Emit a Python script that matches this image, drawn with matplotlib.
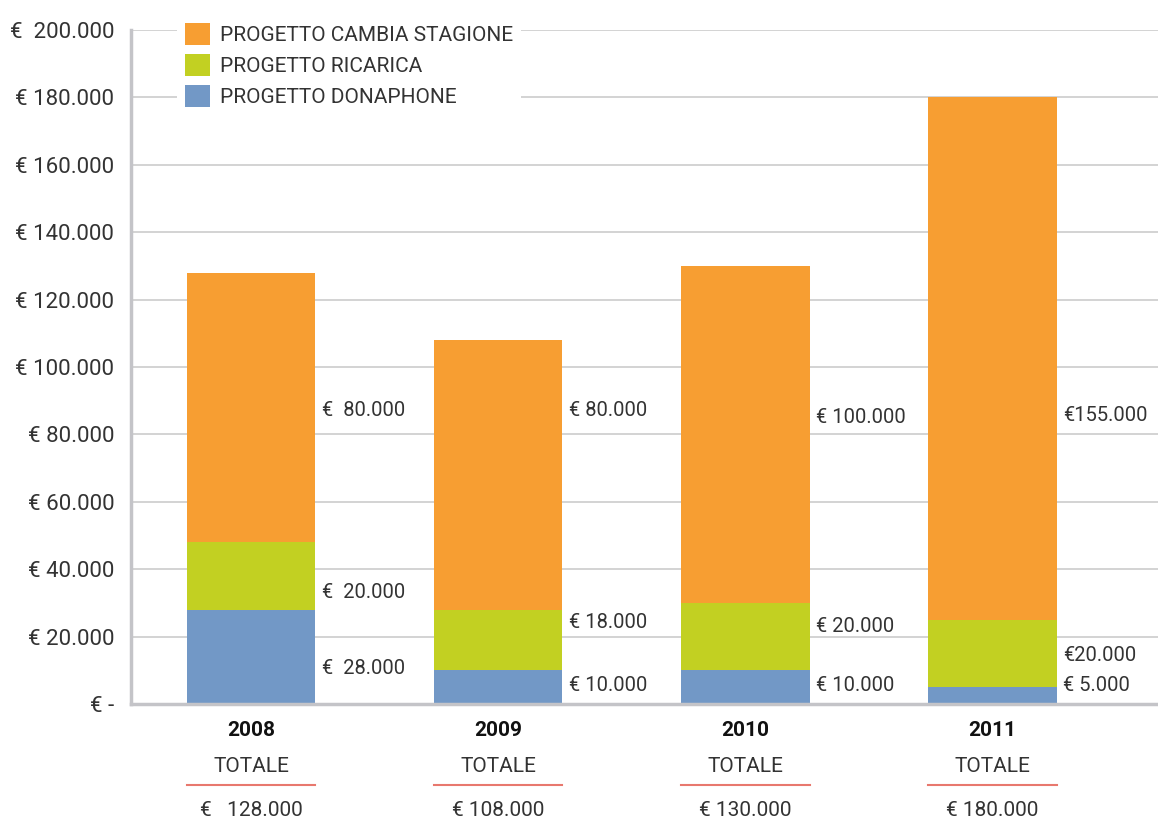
import numpy as np
import matplotlib
matplotlib.use("Agg")
import matplotlib.pyplot as plt
import matplotlib.transforms as mtransforms
from matplotlib.patches import Patch
from matplotlib.lines import Line2D

plt.rcParams['font.family'] = ['Roboto', 'DejaVu Sans']

years = ['2008', '2009', '2010', '2011']
donaphone = [28000, 10000, 10000, 5000]
ricarica = [20000, 18000, 20000, 20000]
cambia = [80000, 80000, 100000, 155000]
totals = ['€   128.000', '€ 108.000', '€ 130.000', '€ 180.000']
lab_donaphone = ['€  28.000', '€ 10.000', '€ 10.000', '€ 5.000']
lab_ricarica = ['€  20.000', '€ 18.000', '€ 20.000', '€20.000']
lab_cambia = ['€  80.000', '€ 80.000', '€ 100.000', '€155.000']
yticks = [0, 20000, 40000, 60000, 80000, 100000, 120000, 140000, 160000, 180000, 200000]
ytick_labels = ['€ -', '€ 20.000', '€ 40.000', '€ 60.000', '€ 80.000', '€ 100.000',
                '€ 120.000', '€ 140.000', '€ 160.000', '€ 180.000', '€  200.000']
series_names = ['PROGETTO CAMBIA STAGIONE', 'PROGETTO RICARICA', 'PROGETTO DONAPHONE']

# where the value labels sit (layout, y in axis units)
pos_donaphone = [10600, 5600, 5600, 5600]
pos_ricarica = [33000, 24200, 23000, 14500]
pos_cambia = [87000, 87000, 85000, 85500]

c_orange = '#F79E32'
c_green = '#C2D022'
c_blue = '#7298C6'
txt = '#333333'

W, H = 1158, 821
fig = plt.figure(figsize=(W / 100, H / 100), dpi=100)
ax = fig.add_axes([131 / W, 1 - 704 / H, 1 - 131 / W, (704 - 30) / H])

x = np.arange(len(years))
w = 0.52
b1 = np.array(donaphone)
b2 = b1 + np.array(ricarica)
ax.bar(x, donaphone, w, color=c_blue, zorder=2)
ax.bar(x, ricarica, w, bottom=b1, color=c_green, zorder=2)
ax.bar(x, cambia, w, bottom=b2, color=c_orange, zorder=2)

# value labels to the right of each bar
for i in range(len(years)):
    xl = x[i] + w / 2 + 0.025
    ax.text(xl, pos_donaphone[i], lab_donaphone[i], va='center', ha='left', fontsize=14.5, color=txt)
    ax.text(xl, pos_ricarica[i], lab_ricarica[i], va='center', ha='left', fontsize=14.5, color=txt)
    ax.text(xl, pos_cambia[i], lab_cambia[i], va='center', ha='left', fontsize=14.5, color=txt)

ax.set_xlim(-0.486, 3.67)
ax.set_ylim(0, 200000)
ax.set_yticks(yticks)
ax.set_yticklabels(ytick_labels, fontsize=16, color=txt)
ax.set_xticks([])
ax.tick_params(axis='y', length=0, pad=12)
ax.grid(axis='y', color='#CCCCCC', linewidth=1.2, zorder=0)
ax.set_axisbelow(True)
for s in ['top', 'right']:
    ax.spines[s].set_visible(False)
for s in ['left', 'bottom']:
    ax.spines[s].set_color('#C4C4C8')
    ax.spines[s].set_linewidth(2.5)

# text below the axis
tr = mtransforms.blended_transform_factory(ax.transData, fig.transFigure)
for i in range(len(years)):
    ax.text(x[i], 1 - 730 / H, years[i], transform=tr, ha='center', va='center',
            fontsize=15, fontweight='bold', color='#111111')
    ax.text(x[i], 1 - 766 / H, 'TOTALE', transform=tr, ha='center', va='center',
            fontsize=15, color=txt)
    ax.add_line(Line2D([x[i] - w / 2, x[i] + w / 2], [1 - 785 / H, 1 - 785 / H],
                       transform=tr, color='#E8786E', linewidth=1.5, clip_on=False))
    ax.text(x[i], 1 - 810 / H, totals[i], transform=tr, ha='center', va='center',
            fontsize=15, color=txt)

handles = [Patch(facecolor=c_orange), Patch(facecolor=c_green), Patch(facecolor=c_blue)]
leg = fig.legend(handles, series_names, loc='upper left', bbox_to_anchor=(177 / W, 1 - 15 / H),
                 frameon=True, facecolor='white', edgecolor='none', framealpha=1,
                 fontsize=15, handlelength=1.2, handleheight=1.2, handletextpad=0.45,
                 labelspacing=0.45, borderpad=0.4, borderaxespad=0)
for t in leg.get_texts():
    t.set_color(txt)

fig.savefig('out.png', dpi=100)
